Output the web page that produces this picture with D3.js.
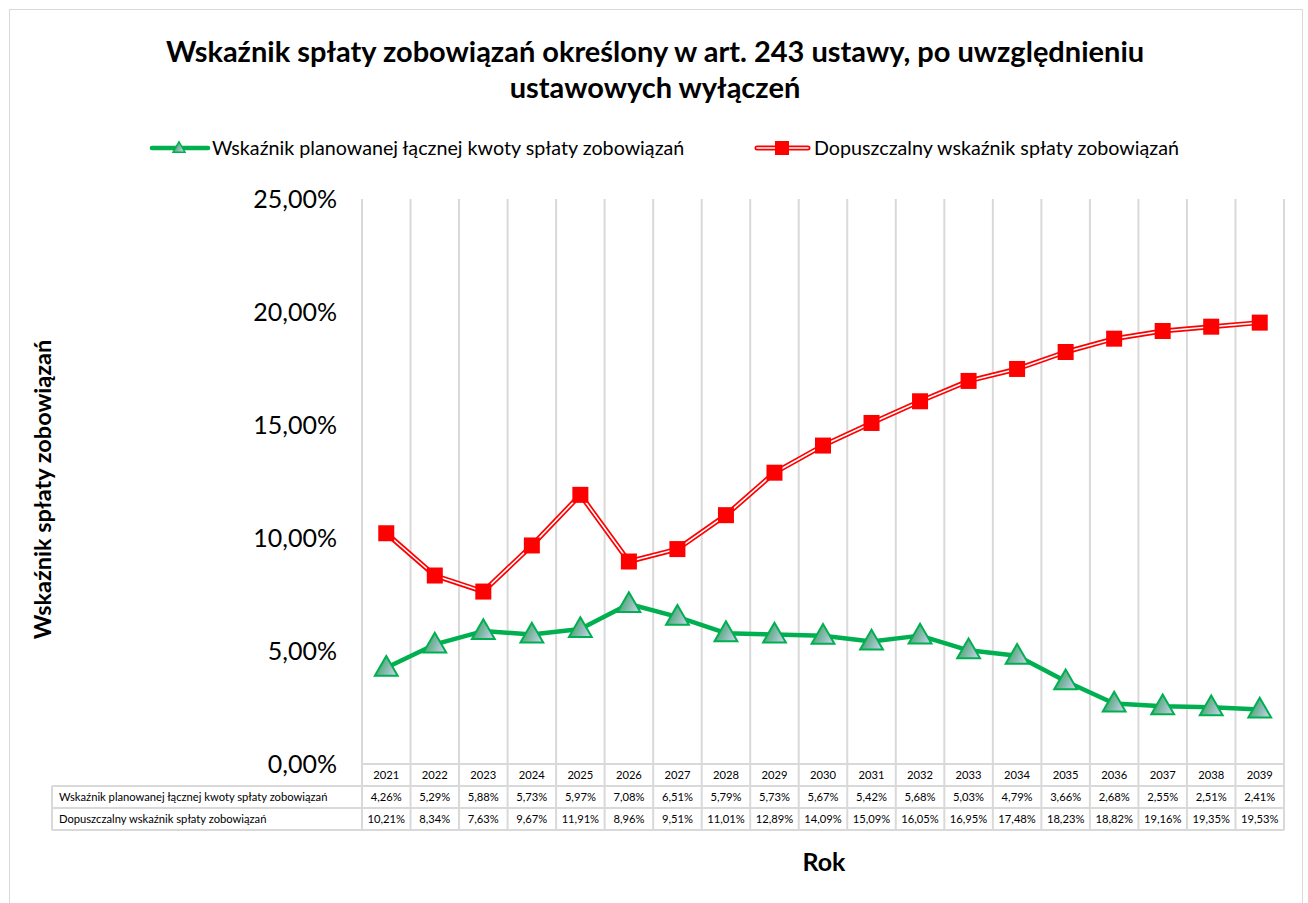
<!DOCTYPE html>
<html>
<head>
<meta charset="utf-8">
<script src="https://cdn.jsdelivr.net/npm/d3@7"></script>
<style>
  body { margin: 0; background: #fff; }
  svg { font-family: Lato, "Open Sans", sans-serif; }
</style>
</head>
<body>
<div id="chart"></div>
<script>
const years = ["2021","2022","2023","2024","2025","2026","2027","2028","2029","2030",
               "2031","2032","2033","2034","2035","2036","2037","2038","2039"];
const planned = [4.26,5.29,5.88,5.73,5.97,7.08,6.51,5.79,5.73,5.67,5.42,5.68,5.03,4.79,3.66,2.68,2.55,2.51,2.41];
const allowed = [10.21,8.34,7.63,9.67,11.91,8.96,9.51,11.01,12.89,14.09,15.09,16.05,16.95,17.48,18.23,18.82,19.16,19.35,19.53];
const yTicks = [0,5,10,15,20,25];
const seriesNames = ["Wskaźnik planowanej łącznej kwoty spłaty zobowiązań", "Dopuszczalny wskaźnik spłaty zobowiązań"];

const W = 1308, H = 903;
const plot = { left: 362, right: 1284, top: 199, bottom: 764 };
const rowH = 22;
const fmt = v => v.toFixed(2).replace(".", ",") + "%";

const svg = d3.select("#chart").append("svg").attr("width", W).attr("height", H);

// chart border
svg.append("rect").attr("x", 9.5).attr("y", 9.5).attr("width", W - 15).attr("height", H)
  .attr("fill", "#fff").attr("stroke", "#d9d9d9");

const defs = svg.append("defs");
const grad = defs.append("linearGradient").attr("id", "triGrad")
  .attr("x1", "0%").attr("y1", "30%").attr("x2", "100%").attr("y2", "70%");
grad.append("stop").attr("offset", "0%").attr("stop-color", "#2f9e5c");
grad.append("stop").attr("offset", "100%").attr("stop-color", "#c8d0ea");

const x = d3.scaleBand().domain(years).range([plot.left, plot.right]).paddingInner(0).paddingOuter(0);
const y = d3.scaleLinear().domain([0, 25]).range([plot.bottom, plot.top]);

// title
svg.append("text").attr("x", 655).attr("y", 62).attr("text-anchor", "middle")
  .attr("font-size", 29).attr("font-weight", "bold")
  .text("Wskaźnik spłaty zobowiązań określony w art. 243 ustawy, po uwzględnieniu");
svg.append("text").attr("x", 655).attr("y", 98).attr("text-anchor", "middle")
  .attr("font-size", 29).attr("font-weight", "bold")
  .text("ustawowych wyłączeń");

// grid: vertical lines at band edges, through the table
const edges = years.map(d => x(d)).concat([plot.right]);
const tableBottom = plot.bottom + rowH * 3;
svg.append("g").selectAll("line").data(edges).join("line")
  .attr("x1", d => d).attr("x2", d => d)
  .attr("y1", plot.top).attr("y2", tableBottom)
  .attr("stroke", "#d9d9d9").attr("stroke-width", 2);

// table horizontal lines
const hLines = [plot.bottom, plot.bottom + rowH, plot.bottom + 2 * rowH, tableBottom];
svg.append("g").selectAll("line").data(hLines).join("line")
  .attr("x1", (d, i) => i === 0 ? plot.left : 52).attr("x2", plot.right)
  .attr("y1", d => d).attr("y2", d => d)
  .attr("stroke", "#d9d9d9").attr("stroke-width", 2);
svg.append("line").attr("x1", 52).attr("x2", 52)
  .attr("y1", plot.bottom + rowH).attr("y2", tableBottom)
  .attr("stroke", "#d9d9d9").attr("stroke-width", 2);

// y axis labels
const yAxis = svg.append("g").attr("transform", `translate(${plot.left - 25},0)`)
  .call(d3.axisLeft(y).tickValues(yTicks).tickSize(0).tickPadding(0).tickFormat(fmt));
yAxis.select(".domain").remove();
yAxis.selectAll("text").attr("font-size", 25).attr("font-family", "Lato, sans-serif").attr("fill", "#000");

// y axis title
svg.append("text").attr("transform", `translate(51,${(plot.top + plot.bottom) / 2 + 8}) rotate(-90)`)
  .attr("text-anchor", "middle").attr("font-size", 23.5).attr("font-weight", "bold")
  .text("Wskaźnik spłaty zobowiązań");

// table
const tbl = svg.append("g").attr("font-size", 11.2);
tbl.selectAll(".yr").data(years).join("text")
  .attr("x", d => x(d) + x.bandwidth() / 2).attr("y", plot.bottom + rowH / 2 + 4)
  .attr("text-anchor", "middle").text(d => d);
[planned, allowed].forEach((arr, r) => {
  const yy = plot.bottom + rowH * (r + 1) + rowH / 2 + 4;
  tbl.append("text").attr("x", 59).attr("y", yy).text(seriesNames[r]);
  tbl.selectAll(".v" + r).data(arr).join("text")
    .attr("x", (d, i) => x(years[i]) + x.bandwidth() / 2).attr("y", yy)
    .attr("text-anchor", "middle").text(d => fmt(d));
});

// x title
svg.append("text").attr("x", 824).attr("y", 871).attr("text-anchor", "middle")
  .attr("font-size", 25).attr("font-weight", "bold").text("Rok");

const cx = i => x(years[i]) + x.bandwidth() / 2;
const line = d3.line().x((d, i) => cx(i)).y(d => y(d));

// red double line
svg.append("path").datum(allowed).attr("d", line).attr("fill", "none")
  .attr("stroke", "#ff0000").attr("stroke-width", 5).attr("stroke-linejoin", "round");
svg.append("path").datum(allowed).attr("d", line).attr("fill", "none")
  .attr("stroke", "#fff").attr("stroke-width", 1.6).attr("stroke-linejoin", "round");
svg.append("g").selectAll("rect").data(allowed).join("rect")
  .attr("x", (d, i) => cx(i) - 8).attr("y", d => y(d) - 8)
  .attr("width", 16).attr("height", 16).attr("fill", "#ff0000");

// green line
svg.append("path").datum(planned).attr("d", line).attr("fill", "none")
  .attr("stroke", "#00b050").attr("stroke-width", 4.5).attr("stroke-linejoin", "round");
const tri = (px, py, s) => `M${px},${py - s * 0.62}L${px + s * 0.6},${py + s * 0.42}L${px - s * 0.6},${py + s * 0.42}Z`;
svg.append("g").selectAll("path").data(planned).join("path")
  .attr("d", (d, i) => tri(cx(i), y(d), 19))
  .attr("fill", "url(#triGrad)").attr("stroke", "#00b050").attr("stroke-width", 2);

// legend
const lg = svg.append("g").attr("font-size", 19.7);
lg.append("line").attr("x1", 152).attr("x2", 208).attr("y1", 148).attr("y2", 148)
  .attr("stroke", "#00b050").attr("stroke-width", 4.5).attr("stroke-linecap", "round");
lg.append("path").attr("d", tri(179, 148, 10)).attr("fill", "url(#triGrad)")
  .attr("stroke", "#00b050").attr("stroke-width", 1.5);
lg.append("text").attr("x", 212).attr("y", 155).text(seriesNames[0]);
lg.append("line").attr("x1", 757).attr("x2", 808).attr("y1", 148).attr("y2", 148)
  .attr("stroke", "#ff0000").attr("stroke-width", 5).attr("stroke-linecap", "round");
lg.append("line").attr("x1", 757).attr("x2", 808).attr("y1", 148).attr("y2", 148)
  .attr("stroke", "#fff").attr("stroke-width", 1.6).attr("stroke-linecap", "round");
lg.append("rect").attr("x", 775).attr("y", 141).attr("width", 14).attr("height", 14).attr("fill", "#ff0000");
lg.append("text").attr("x", 814).attr("y", 155).text(seriesNames[1]);
</script>
</body>
</html>
